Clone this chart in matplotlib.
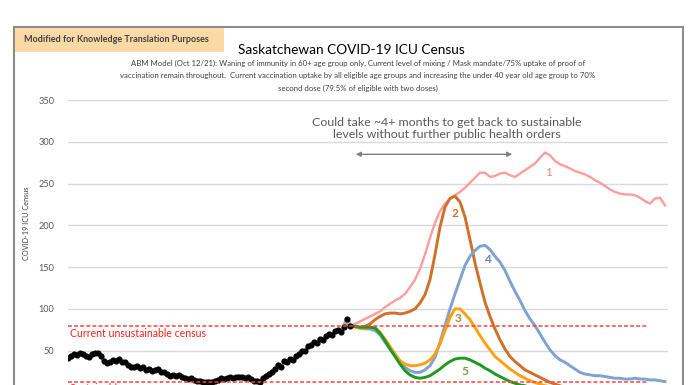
import matplotlib.pyplot as plt
from matplotlib.patches import Rectangle

plt.rcParams['font.family'] = ['Lato', 'DejaVu Sans']

# observed ICU census (black dots), one value every 3 days
obs_day = list(range(0, 285, 3))
obs_val = [41, 44, 46, 45, 47, 46, 44, 42, 46, 47, 47, 44, 38, 35, 37, 39,
           38, 40, 37, 36, 33, 31, 30, 32, 29, 30, 27, 28, 26, 27, 28, 25,
           24, 22, 20, 21, 20, 21, 18, 17, 16, 17, 15, 14, 14, 13, 12, 13,
           12, 14, 15, 17, 16, 17, 18, 17, 18, 19, 18, 17, 18, 16, 14, 14,
           13, 17, 20, 22, 25, 28, 33, 30, 38, 36, 40, 39, 44, 46, 50, 49,
           55, 57, 60, 59, 64, 63, 67, 70, 69, 73, 75, 72, 78, 88, 80]

# model projections, one value every 5 days
proj_day = list(range(282, 600, 5))
s1 = [80, 82, 85, 88, 91, 94, 97, 102, 106, 110, 113, 118, 126, 135, 148, 165,
      185, 203, 217, 226, 232, 236, 240, 245, 251, 257, 263, 263, 258, 259, 262, 263,
      260, 258, 262, 266, 270, 274, 281, 287, 284, 277, 273, 271, 268, 265, 263, 261,
      258, 254, 251, 247, 243, 240, 238, 237, 237, 236, 233, 229, 226, 232, 233, 224]
s2 = [80, 79, 78, 79, 82, 87, 91, 94, 95, 95, 94, 95, 97, 100, 107, 117,
      135, 165, 198, 222, 232, 235, 228, 210, 183, 155, 131, 108, 91, 76, 63, 52,
      43, 37, 32, 27, 24, 21, 18, 15, 12, 10, 8, 6, 5, 4, 3, 2,
      2, 2, 2, 2, 2, 2, 2, 2, 2, 2, 2, 2, 2, 2, 2, 2]
s3 = [80, 78, 77, 77, 78, 78, 72, 64, 55, 46, 38, 34, 32, 32, 33, 35,
      39, 46, 58, 74, 90, 100, 100, 94, 87, 78, 68, 59, 51, 43, 38, 33,
      28, 24, 20, 17, 14, 12, 10, 8, 7, 6, 5, 4, 4, 3, 3, 3,
      3, 3, 3, 3, 3, 3, 3, 3, 3, 3, 3, 3, 3, 3, 3, 3]
s4 = [80, 79, 77, 76, 76, 74, 69, 60, 52, 44, 36, 30, 26, 24, 24, 27,
      32, 42, 60, 80, 100, 118, 135, 152, 163, 170, 175, 176, 171, 163, 156, 146,
      133, 121, 110, 98, 88, 80, 70, 60, 51, 44, 39, 36, 32, 28, 24, 22,
      21, 20, 20, 19, 18, 17, 17, 16, 16, 17, 16, 16, 15, 15, 14, 13]
s5 = [80, 79, 78, 78, 78, 77, 71, 62, 52, 43, 34, 26, 21, 18, 17, 18,
      20, 24, 28, 33, 37, 40, 41, 41, 39, 36, 33, 29, 26, 22, 19, 16,
      13, 11, 9, 8, 6, 5, 4, 4, 3, 3, 3, 3, 3, 3, 3, 3,
      3, 3, 3, 3, 3, 3, 3, 3, 3, 3, 3, 3, 3, 3, 3, 3]

unsustainable = 80
sustainable = 13
yticks = [50, 100, 150, 200, 250, 300, 350]

fig = plt.figure(figsize=(6.96, 3.85), dpi=100)
ax = fig.add_axes([68 / 696, 0, 600 / 696, 285 / 385])

for y in yticks:
    ax.axhline(y, color='#d9d9d9', lw=1, zorder=0)

ax.plot(proj_day, s1, color='#ff9c9c', lw=1.7)
ax.plot(proj_day, s2, color='#d0702a', lw=2.1)
ax.plot(proj_day, s4, color='#7fa2d2', lw=2.1)
ax.plot(proj_day, s3, color='#ffa010', lw=2.1)
ax.plot(proj_day, s5, color='#1e9a1e', lw=2.1)

ax.plot(obs_day, obs_val, color='#707070', lw=3.2, alpha=0.6)
ax.plot(obs_day, obs_val, 'o', color='black', ms=3.4)

ax.plot([0, 580], [unsustainable] * 2, ls=(0, (2.5, 1.5)), color='#ff4040', lw=1.1)
ax.plot([0, 580], [sustainable] * 2, ls=(0, (2.5, 1.5)), color='#ff4040', lw=1.1)
ax.text(2, 71, 'Current unsustainable census', color='#ff2020', fontsize=7.6, va='center')
ax.text(2, 5, 'Sustainable census', color='#ff2020', fontsize=7.6, va='center')

# curve labels
ax.text(480, 263, '1', color='#ff7f7f', fontsize=8.5, ha='center', va='center')
ax.text(387, 214, '2', color='#d0702a', fontsize=8.5, ha='center', va='center', fontweight='bold')
ax.text(390, 89, '3', color='#a68a3c', fontsize=8.5, ha='center', va='center', fontweight='bold')
ax.text(419, 159, '4', color='#5f86bf', fontsize=8.5, ha='center', va='center', fontweight='bold')
ax.text(397, 25, '5', color='#7f9a4a', fontsize=8.5, ha='center', va='center', fontweight='bold')

ax.text(379, 316, 'Could take ~4+ months to get back to sustainable\nlevels without further public health orders',
        ha='center', va='center', fontsize=8.9, color='#595959', linespacing=1.2)
ax.annotate('', xy=(285, 285), xytext=(447, 285),
            arrowprops=dict(arrowstyle='<|-|>', color='#7f7f7f', lw=1, mutation_scale=7))

ax.set_xlim(0, 600)
ax.set_ylim(8.9, 350)
ax.set_yticks(yticks)
ax.set_yticklabels([str(v) for v in yticks], fontsize=6.6, color='#595959')
ax.tick_params(axis='y', length=0, pad=10)
ax.set_xticks([])
for sp in ax.spines.values():
    sp.set_visible(False)
ax.set_facecolor('none')

fig.text(27 / 696, 1 - 223 / 385, 'COVID-19 ICU Census', rotation=90, ha='center', va='center',
         fontsize=5.2, color='#404040')

# outer frame and header box
fig.patches.append(Rectangle((14 / 696, -0.05), 669 / 696, 1.05 - 27 / 385, transform=fig.transFigure,
                             fill=False, edgecolor='#8c8c8c', lw=1.5))
fig.patches.append(Rectangle((15 / 696, 1 - 52 / 385), 209 / 696, 24 / 385, transform=fig.transFigure,
                             facecolor='#fbd9a5', edgecolor='none'))
fig.text(24 / 696, 1 - 40 / 385, 'Modified for Knowledge Translation Purposes', fontsize=6.5,
         fontweight='bold', color='#404040', va='center')

fig.text(351 / 696, 1 - 50 / 385, 'Saskatchewan COVID-19 ICU Census', ha='center', va='center',
         fontsize=9.8, color='black')
sub = ['ABM Model (Oct 12/21): Waning of immunity in 60+ age group only, Current level of mixing / Mask mandate/75% uptake of proof of',
       'vaccination remain throughout.  Current vaccination uptake by all eligible age groups and increasing the under 40 year old age group to 70%',
       'second dose (79.5% of eligible with two doses)']
for i, line in enumerate(sub):
    fig.text(358 / 696, 1 - (63 + 12.5 * i) / 385, line, ha='center', va='center', fontsize=5.6, color='#404040')

fig.savefig('out.png', dpi=100)
